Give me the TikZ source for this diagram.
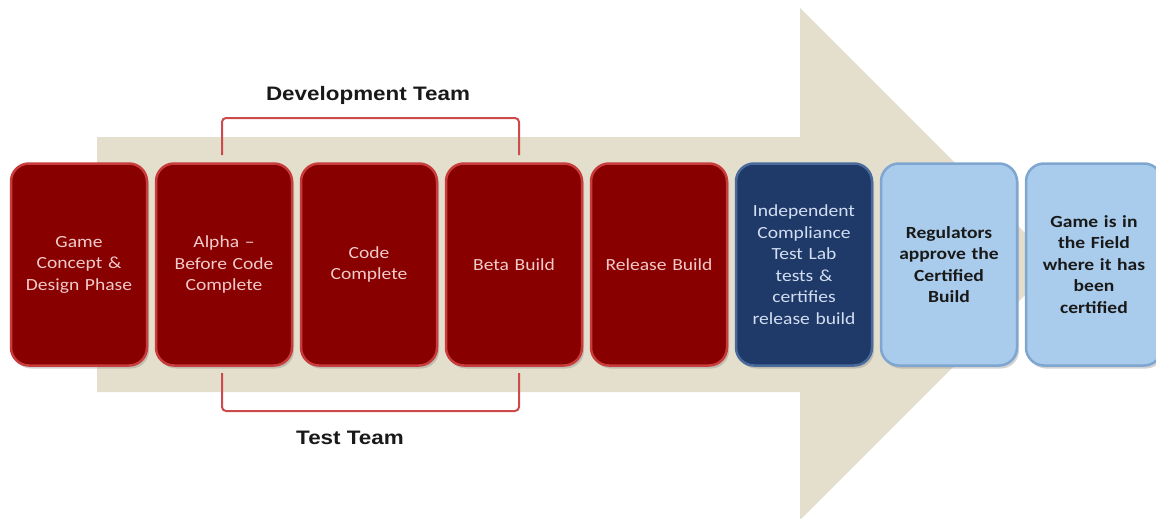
\documentclass[tikz,border=0pt]{standalone}
\usepackage{fontspec}
\setmainfont{Carlito}[FakeStretch=1.15]
\newfontfamily\labfont{Liberation Sans}[FakeStretch=1.15]
\usetikzlibrary{shadows}
\definecolor{beige}{HTML}{E4DFCC}
\definecolor{darkred}{HTML}{880000}
\definecolor{redrim}{HTML}{C83C3C}
\definecolor{navy}{HTML}{1F3A68}
\definecolor{navyrim}{HTML}{4A6A9C}
\definecolor{lblue}{HTML}{A9CCEC}
\definecolor{lbluerim}{HTML}{7FA6D0}
\definecolor{pinktext}{HTML}{F2CACA}
\definecolor{navytext}{HTML}{D2DEF2}
\definecolor{brack}{HTML}{CC4A4A}
\begin{document}
\begin{tikzpicture}[x=1pt,y=-1pt,
  phase/.style={rounded corners=18pt, minimum width=136pt, minimum height=202pt,
    text width=124pt, align=center, inner sep=0pt, line width=2.5pt,
    font=\fontsize{17}{21.5}\selectfont,
    drop shadow={opacity=0.35, shadow xshift=2pt, shadow yshift=-3pt}},
  redphase/.style={phase, fill=darkred, draw=redrim, text=pinktext},
  navyphase/.style={phase, fill=navy, draw=navyrim, text=navytext},
  bluephase/.style={phase, fill=lblue, draw=lbluerim, text=black!90, font=\fontsize{17}{21.5}\selectfont\bfseries},
  bracket/.style={draw=brack, line width=2pt, rounded corners=4pt},
  teamlabel/.style={font=\labfont\fontsize{19.5}{22}\selectfont\bfseries, text=black!90}]
\useasboundingbox (0,0) rectangle (1156,519);
% big arrow
\fill[beige] (97,137) -- (800,137) -- (800,8) -- (1056,264) -- (800,520) -- (800,392) -- (97,392) -- cycle;
% phases
\node[redphase] (p1) at (79,264.5) {Game\\Concept \&\\Design Phase};
\node[redphase] (p2) at (224,264.5) {Alpha --\\Before Code\\Complete};
\node[redphase] (p3) at (369,264.5) {Code\\Complete};
\node[redphase] (p4) at (514,264.5) {Beta Build};
\node[redphase] (p5) at (659,264.5) {Release Build};
\node[navyphase] (p6) at (804,264.5) {Independent\\Compliance\\Test Lab\\tests \&\\certifies\\release build};
\node[bluephase] (p7) at (949,264.5) {Regulators\\approve the\\Certified\\Build};
\node[bluephase] (p8) at (1094,264.5) {Game is in\\the Field\\where it has\\been\\certified};
% brackets
\coordinate (d1) at (222,155); \coordinate (d2) at (222,118);
\coordinate (d3) at (519,118); \coordinate (d4) at (519,155);
\draw[bracket] (d1) -- (d2) -- (d3) -- (d4);
\coordinate (t1) at (222,373); \coordinate (t2) at (222,411);
\coordinate (t3) at (519,411); \coordinate (t4) at (519,373);
\draw[bracket] (t1) -- (t2) -- (t3) -- (t4);
\node[teamlabel] (dev) at (368,95) {Development Team};
\node[teamlabel] (test) at (350,438) {Test Team};
\end{tikzpicture}
\end{document}
